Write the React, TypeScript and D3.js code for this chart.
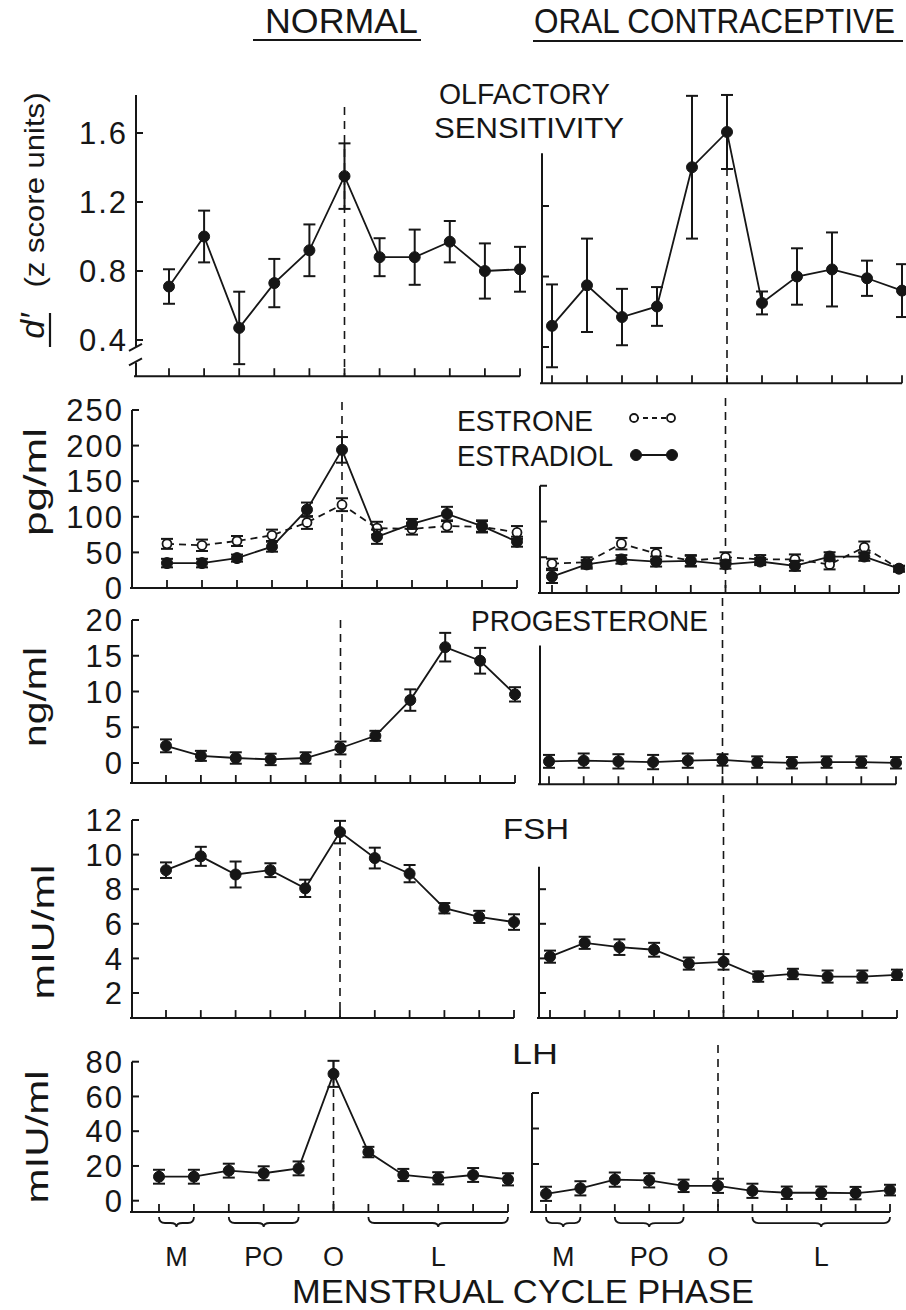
import React from "react";
import * as d3 from "d3";

// ---- data -----------------------------------------------------------------

const cycleDays = [1, 2, 3, 4, 5, 6, 7, 8, 9, 10, 11];
const ovulationDay = 6;

const phaseNames = ["M", "PO", "O", "L"];
const phaseFrom = [1, 3, 6, 7];
const phaseTo = [2, 5, 6, 11];

const olfNormal = [0.71, 1.0, 0.47, 0.73, 0.92, 1.35, 0.88, 0.88, 0.97, 0.8, 0.81];
const olfNormalSE = [0.1, 0.15, 0.21, 0.14, 0.15, 0.19, 0.11, 0.16, 0.12, 0.16, 0.13];
const olfOC = [0.52, 0.75, 0.57, 0.63, 1.42, 1.62, 0.65, 0.8, 0.84, 0.79, 0.72];
const olfOCSE = [0.235, 0.265, 0.16, 0.11, 0.405, 0.21, 0.065, 0.16, 0.21, 0.1, 0.15];

const estradiolNormal = [35, 35, 42, 58, 110, 194, 72, 90, 104, 87, 65];
const estradiolNormalSE = [6, 6, 5, 7, 10, 18, 10, 7, 10, 8, 7];
const estroneNormal = [62, 60, 66, 74, 92, 117, 84, 83, 87, 86, 78];
const estroneNormalSE = [7, 8, 7, 8, 9, 9, 9, 8, 8, 8, 9];
const estradiolOC = [23, 40, 47, 44, 45, 40, 44, 38, 51, 51, 34];
const estradiolOCSE = [9, 6, 6, 7, 7, 6, 5, 7, 6, 6, 4];
const estroneOC = [41, 43, 69, 55, 45, 50, 47, 47, 40, 64, 34];
const estroneOCSE = [7, 7, 8, 8, 8, 7, 6, 7, 7, 8, 4];

const progNormal = [2.4, 1.0, 0.7, 0.5, 0.7, 2.1, 3.8, 8.8, 16.2, 14.3, 9.6];
const progNormalSE = [0.9, 0.7, 0.8, 0.8, 0.8, 0.9, 0.7, 1.5, 2.0, 1.8, 1.0];
const progOC = [0.3, 0.4, 0.3, 0.2, 0.4, 0.5, 0.2, 0.1, 0.2, 0.2, 0.1];
const progOCSE = [0.9, 1.0, 1.0, 1.0, 1.0, 0.8, 0.8, 0.8, 0.8, 0.8, 0.8];

const fshNormal = [9.1, 9.9, 8.85, 9.1, 8.05, 11.3, 9.8, 8.9, 6.9, 6.4, 6.1];
const fshNormalSE = [0.45, 0.55, 0.75, 0.4, 0.5, 0.65, 0.6, 0.5, 0.3, 0.35, 0.45];
const fshOC = [4.1, 4.9, 4.65, 4.5, 3.7, 3.8, 2.95, 3.1, 2.95, 2.95, 3.05];
const fshOCSE = [0.35, 0.35, 0.45, 0.4, 0.35, 0.45, 0.3, 0.3, 0.35, 0.35, 0.3];

const lhNormal = [13.8, 13.8, 17.3, 15.8, 18.6, 73, 28, 14.8, 12.9, 14.8, 12.3];
const lhNormalSE = [4, 4, 4, 4, 4, 7.5, 3, 3.5, 3.5, 4, 3.5];
const lhOC = [3.2, 6.3, 11.2, 10.8, 7.7, 7.7, 4.9, 3.8, 3.8, 3.6, 5.3];
const lhOCSE = [4, 4, 4, 4, 3.5, 4, 4, 3.5, 3.5, 3.5, 3];

const olfTicksL = [0.4, 0.8, 1.2, 1.6];
const olfTicksR = [0.4, 0.8, 1.2];
const estTicksL = [0, 50, 100, 150, 200, 250];
const estTicksR = [50, 100, 150];
const progTicksL = [0, 5, 10, 15, 20];
const progTicksR: number[] = [];
const fshTicksL = [2, 4, 6, 8, 10, 12];
const fshTicksR = [2, 4, 6, 8];
const lhTicksL = [0, 20, 40, 60, 80];
const lhTicksR = [20, 40, 60];

// ---- layout -----------------------------------------------------------------

const FONT = "'Liberation Sans', Arial, sans-serif";
const INK = "#161616";

type Series = { values: number[]; se: number[]; open?: boolean };

type Side = {
  axisX: number;
  x0: number;
  x1: number;
  yDomain: [number, number];
  yRange: [number, number];
  axisTop: number;
  axisBottom: number;
  dashTop: number;
  ticks: number[];
  fmt: (v: number) => string;
  showLabels: boolean;
  brk?: [number, number];
  series: Series[];
};

const f1 = d3.format(".1f");
const fd = d3.format("d");

const sides: Side[] = [
  // olfactory
  {
    axisX: 136, x0: 169, x1: 520, yDomain: [0.4, 1.6], yRange: [340, 133],
    axisTop: 1.82, axisBottom: 0.19, dashTop: 107, ticks: olfTicksL, fmt: f1,
    showLabels: true, brk: [0.36, 0.27],
    series: [{ values: olfNormal, se: olfNormalSE }],
  },
  {
    axisX: 542, x0: 552, x1: 902, yDomain: [0.4, 1.2], yRange: [347, 206],
    axisTop: 1.5, axisBottom: 0.195, dashTop: 140, ticks: olfTicksR, fmt: f1,
    showLabels: false,
    series: [{ values: olfOC, se: olfOCSE }],
  },
  // estrogens
  {
    axisX: 132, x0: 167, x1: 517, yDomain: [0, 250], yRange: [588, 410],
    axisTop: 250, axisBottom: 0, dashTop: 402, ticks: estTicksL, fmt: fd,
    showLabels: true,
    series: [
      { values: estroneNormal, se: estroneNormalSE, open: true },
      { values: estradiolNormal, se: estradiolNormalSE },
    ],
  },
  {
    axisX: 540, x0: 552, x1: 899, yDomain: [0, 100], yRange: [593, 521.5],
    axisTop: 150, axisBottom: 0, dashTop: 398, ticks: estTicksR, fmt: fd,
    showLabels: false,
    series: [
      { values: estroneOC, se: estroneOCSE, open: true },
      { values: estradiolOC, se: estradiolOCSE },
    ],
  },
  // progesterone
  {
    axisX: 132, x0: 166, x1: 515, yDomain: [0, 20], yRange: [763, 620],
    axisTop: 20, axisBottom: -2.8, dashTop: 620, ticks: progTicksL, fmt: fd,
    showLabels: true,
    series: [{ values: progNormal, se: progNormalSE }],
  },
  {
    axisX: 540, x0: 549, x1: 896, yDomain: [0, 20], yRange: [763.5, 620.5],
    axisTop: 16.5, axisBottom: -2.9, dashTop: 598, ticks: progTicksR, fmt: fd,
    showLabels: false,
    series: [{ values: progOC, se: progOCSE }],
  },
  // FSH
  {
    axisX: 132, x0: 166, x1: 514, yDomain: [2, 12], yRange: [993, 820],
    axisTop: 12, axisBottom: 0.55, dashTop: 820, ticks: fshTicksL, fmt: fd,
    showLabels: true,
    series: [{ values: fshNormal, se: fshNormalSE }],
  },
  {
    axisX: 539, x0: 550, x1: 897, yDomain: [2, 12], yRange: [993, 820],
    axisTop: 9.3, axisBottom: 0.55, dashTop: 795, ticks: fshTicksR, fmt: fd,
    showLabels: false,
    series: [{ values: fshOC, se: fshOCSE }],
  },
  // LH
  {
    axisX: 132, x0: 159, x1: 508, yDomain: [0, 80], yRange: [1200.7, 1061.7],
    axisTop: 80, axisBottom: -6.5, dashTop: 1061, ticks: lhTicksL, fmt: fd,
    showLabels: true,
    series: [{ values: lhNormal, se: lhNormalSE }],
  },
  {
    axisX: 532, x0: 546, x1: 890, yDomain: [0, 60], yRange: [1199.5, 1093],
    axisTop: 60, axisBottom: -7.1, dashTop: 1045, ticks: lhTicksR, fmt: fd,
    showLabels: false,
    series: [{ values: lhOC, se: lhOCSE }],
  },
];

const lastRow = [sides[8], sides[9]];

// ---- components -------------------------------------------------------------

function SidePlot({ s }: { s: Side }) {
  const x = d3.scaleLinear().domain([cycleDays[0], cycleDays[cycleDays.length - 1]]).range([s.x0, s.x1]);
  const y = d3.scaleLinear().domain(s.yDomain).range(s.yRange);
  const axisY = y(s.axisBottom);
  const line = d3
    .line<number>()
    .x((_, i) => x(cycleDays[i]))
    .y((v) => y(v));

  return (
    <g>
      {/* ovulation marker */}
      <line
        x1={x(ovulationDay)} x2={x(ovulationDay)} y1={s.dashTop} y2={axisY}
        stroke={INK} strokeWidth={1.6} strokeDasharray="8,6"
      />
      {/* y axis */}
      {s.brk ? (
        <g stroke={INK} strokeWidth={2} fill="none">
          <line x1={s.axisX} x2={s.axisX} y1={y(s.axisTop)} y2={y(s.brk[0])} />
          <line x1={s.axisX} x2={s.axisX} y1={y(s.brk[1])} y2={axisY} />
          <path d={`M${s.axisX - 7},${y(s.brk[0]) + 4} L${s.axisX + 6},${y(s.brk[0]) - 3}`} />
          <path d={`M${s.axisX - 7},${y(s.brk[1]) + 3} L${s.axisX + 6},${y(s.brk[1]) - 4}`} />
        </g>
      ) : (
        <line x1={s.axisX} x2={s.axisX} y1={y(s.axisTop)} y2={axisY} stroke={INK} strokeWidth={2} />
      )}
      {s.ticks.map((t) => (
        <line key={"yt" + t} x1={s.axisX} x2={s.axisX + 7} y1={y(t)} y2={y(t)} stroke={INK} strokeWidth={2} />
      ))}
      {s.showLabels &&
        s.ticks.map((t) => (
          <text
            key={"yl" + t} x={s.axisX - 8} y={y(t)} dy="0.36em" textAnchor="end"
            fontFamily={FONT} fontSize={31} letterSpacing={2} fill={INK}
          >
            {s.fmt(t)}
          </text>
        ))}
      {/* x axis */}
      <line x1={s.axisX - 2} x2={s.x1} y1={axisY} y2={axisY} stroke={INK} strokeWidth={2} />
      {cycleDays.map((d) => (
        <line key={"xt" + d} x1={x(d)} x2={x(d)} y1={axisY} y2={axisY - 8} stroke={INK} strokeWidth={1.8} />
      ))}
      {/* series */}
      {s.series.map((ser, k) => (
        <g key={"s" + k}>
          <path
            d={line(ser.values) || ""} fill="none" stroke={INK} strokeWidth={1.8}
            strokeDasharray={ser.open ? "7,5" : undefined}
          />
          {ser.values.map((v, i) => {
            const cx = x(cycleDays[i]);
            const hi = y(v + ser.se[i]);
            const lo = y(v - ser.se[i]);
            return (
              <g key={i} stroke={INK} strokeWidth={2}>
                <line x1={cx} x2={cx} y1={hi} y2={lo} />
                <line x1={cx - 6} x2={cx + 6} y1={hi} y2={hi} />
                <line x1={cx - 6} x2={cx + 6} y1={lo} y2={lo} />
                <circle
                  cx={cx} cy={y(v)} r={ser.open ? 4.5 : 5.5}
                  fill={ser.open ? "#fff" : INK} strokeWidth={ser.open ? 1.8 : 1}
                />
              </g>
            );
          })}
        </g>
      ))}
    </g>
  );
}

function Braces({ s }: { s: Side }) {
  const x = d3.scaleLinear().domain([cycleDays[0], cycleDays[cycleDays.length - 1]]).range([s.x0, s.x1]);
  const y = d3.scaleLinear().domain(s.yDomain).range(s.yRange);
  const top = y(s.axisBottom) + 5;
  const h = 10;
  return (
    <g>
      {phaseNames.map((name, i) => {
        const xa = x(phaseFrom[i]);
        const xb = x(phaseTo[i]);
        const xm = (xa + xb) / 2;
        const mid = top + h * 0.6;
        const d =
          `M${xa},${top} Q${xa},${mid} ${xa + 6},${mid} L${xm - 6},${mid} Q${xm},${mid} ${xm},${top + h} ` +
          `Q${xm},${mid} ${xm + 6},${mid} L${xb - 6},${mid} Q${xb},${mid} ${xb},${top}`;
        return (
          <g key={name}>
            {xb > xa && <path d={d} fill="none" stroke={INK} strokeWidth={1.8} />}
            <text x={xm} y={1266} textAnchor="middle" fontFamily={FONT} fontSize={27} fill={INK}>
              {name}
            </text>
          </g>
        );
      })}
    </g>
  );
}

function Label({ x, y, len, size, children }: { x: number; y: number; len: number; size: number; children: string }) {
  return (
    <text x={x} y={y} fontFamily={FONT} fontSize={size} fill={INK} textLength={len} lengthAdjust="spacingAndGlyphs">
      {children}
    </text>
  );
}

function VLabel({ x, y, len, size, children }: { x: number; y: number; len: number; size: number; children: string }) {
  return (
    <text
      transform={`translate(${x},${y}) rotate(-90)`} textAnchor="middle" fontFamily={FONT}
      fontSize={size} fill={INK} textLength={len} lengthAdjust="spacingAndGlyphs"
    >
      {children}
    </text>
  );
}

export default function App() {
  return (
    <svg
      width={906} height={1310} viewBox="0 0 906 1310"
      style={{ position: "absolute", left: 0, top: 0, background: "#fff" }}
    >
      {/* column titles */}
      <Label x={265} y={33} len={153} size={35}>NORMAL</Label>
      <line x1={253} x2={421} y1={40} y2={40} stroke={INK} strokeWidth={2.2} />
      <text transform="translate(534,33) scale(0.9,1)" fontFamily={FONT} fontSize={35} fill={INK}>
        ORAL CONTRACEPTIVE
      </text>
      <line x1={533} x2={903} y1={41} y2={41} stroke={INK} strokeWidth={2.2} />

      {sides.map((s, i) => (
        <SidePlot key={i} s={s} />
      ))}
      {lastRow.map((s, i) => (
        <Braces key={i} s={s} />
      ))}

      {/* panel titles */}
      <Label x={439} y={104} len={171} size={29}>OLFACTORY</Label>
      <Label x={434} y={138} len={190} size={29}>SENSITIVITY</Label>
      <Label x={457} y={431} len={136} size={30}>ESTRONE</Label>
      <Label x={457} y={466} len={156} size={30}>ESTRADIOL</Label>
      <Label x={471} y={631} len={237} size={30}>PROGESTERONE</Label>
      <Label x={503} y={839} len={66} size={30}>FSH</Label>
      <Label x={512} y={1064} len={46} size={30}>LH</Label>

      {/* legend symbols */}
      <g stroke={INK}>
        <line x1={634} x2={671} y1={418} y2={418} strokeWidth={1.8} strokeDasharray="5,4" />
        <circle cx={634} cy={418} r={4} fill="#fff" strokeWidth={1.8} />
        <circle cx={671} cy={418} r={4} fill="#fff" strokeWidth={1.8} />
        <line x1={636} x2={672} y1={455} y2={455} strokeWidth={2.2} />
        <circle cx={636} cy={455} r={5.5} fill={INK} />
        <circle cx={672} cy={455} r={5.5} fill={INK} />
      </g>

      {/* y axis titles */}
      <VLabel x={44} y={190} len={195} size={28}>(z score units)</VLabel>
      <text
        transform="translate(44,326) rotate(-90)" textAnchor="middle" fontFamily={FONT}
        fontSize={34} fontStyle="italic" fill={INK}
      >
        d′
      </text>
      <line x1={50} x2={50} y1={313} y2={347} stroke={INK} strokeWidth={2.2} />
      <VLabel x={46} y={482} len={108} size={32}>pg/ml</VLabel>
      <VLabel x={46} y={697} len={100} size={32}>ng/ml</VLabel>
      <VLabel x={54} y={932} len={135} size={32}>mIU/ml</VLabel>
      <VLabel x={48} y={1137} len={133} size={32}>mIU/ml</VLabel>

      {/* x axis title */}
      <Label x={292} y={1303} len={462} size={33}>MENSTRUAL CYCLE PHASE</Label>
    </svg>
  );
}
